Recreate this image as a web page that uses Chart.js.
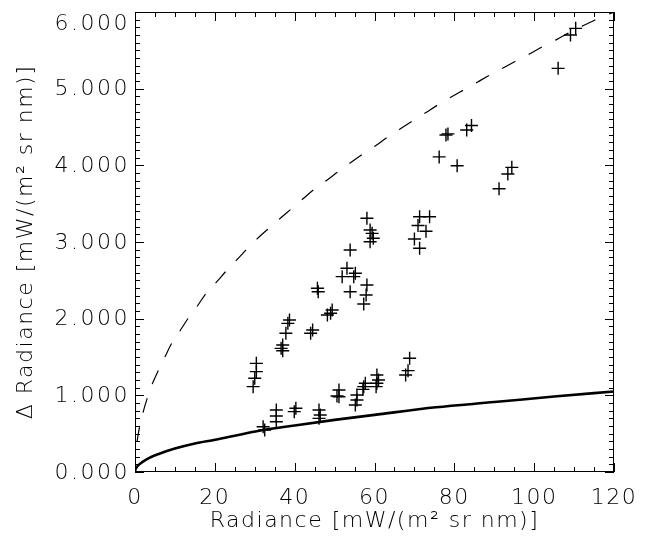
<!DOCTYPE html>
<html>
<head>
<meta charset="utf-8">
<script src="https://cdn.jsdelivr.net/npm/chart.js@4.4.1/dist/chart.umd.min.js"></script>
<style>
  html, body { margin: 0; padding: 0; background: #fff; }
  #wrap { width: 648px; height: 554px; position: relative; }
</style>
</head>
<body>
<div id="wrap"><canvas id="chart"></canvas></div>
<script>
// measured points: radiance vs delta radiance
const pointX = [110.4, 109.1, 106.0, 77.9, 78.4, 83.1, 84.3, 76.2, 80.7, 91.2, 93.4, 94.4,
  71.3, 73.8, 70.9, 72.9, 70.0, 71.3, 58.1, 58.9, 59.4, 59.7, 58.9, 53.9, 53.1, 55.2,
  51.9, 54.8, 53.9, 58.1, 57.9, 57.3, 45.7, 45.9, 49.4, 48.2, 49.0, 38.7, 38.3, 37.8,
  44.5, 44.0, 37.0, 36.6, 37.0, 30.4, 30.4, 30.0, 29.6, 68.8, 68.4, 67.8, 51.1, 50.6,
  51.1, 57.7, 57.3, 57.1, 60.6, 61.0, 60.6, 60.4, 55.6, 55.6, 55.2, 46.1, 46.4, 46.1,
  40.3, 39.9, 35.4, 35.4, 35.4, 32.1, 32.5];
const pointY = [5787, 5700, 5265, 4395, 4410, 4461, 4520, 4110, 3995, 3695, 3887, 3974,
  3330, 3330, 3215, 3140, 3040, 2918, 3309, 3157, 3113, 3048, 3004, 2896, 2657, 2592,
  2548, 2548, 2352, 2439, 2309, 2191, 2396, 2352, 2113, 2048, 2070, 1983, 1939, 1809,
  1852, 1809, 1656, 1613, 1582, 1417, 1309, 1222, 1113, 1483, 1322, 1265, 1070, 991,
  982, 1157, 1113, 1078, 1265, 1200, 1157, 1113, 1004, 939, 874, 809, 743, 700,
  831, 787, 809, 730, 656, 591, 548];

// dashed upper curve
const upperX = [0, 0.1, 0.3, 0.6, 1, 1.5, 2, 3, 4.4, 5.9, 7.6, 9.2, 11.4, 13.3, 15.8, 17.8,
  20.5, 22.7, 25, 30.7, 33.5, 36.4, 39.1, 42.0, 44.9, 47.9, 50.9, 53.9, 57.0, 60.1, 63.2,
  66.3, 69.5, 72.8, 75.8, 79.1, 82.3, 85.7, 88.9, 92.2, 95.4, 98.9, 102.0, 105.6, 108.6,
  112.2, 115.0, 120];
const upperY = [0, 175, 300, 425, 550, 670, 775, 950, 1157, 1330, 1513, 1678, 1852, 2004, 2178, 2331,
  2482, 2613, 2740, 3048, 3178, 3309, 3430, 3560, 3687, 3800, 3917, 4030, 4143, 4250, 4365,
  4470, 4578, 4685, 4787, 4887, 4982, 5083, 5178, 5270, 5360, 5455, 5545, 5640, 5725,
  5820, 5890, 6000];

// solid lower curve
const lowerX = [0, 0.1, 0.25, 0.5, 1, 2, 3.6, 6.1, 10, 15, 20.1, 25.9, 30.8, 40, 50, 60, 75.4, 90, 105, 120];
const lowerY = [0, 30, 48, 68, 96, 136, 185, 238, 305, 372, 420, 483, 535, 607, 680, 745, 844, 912, 985, 1050];

const yTicks = [0, 1000, 2000, 3000, 4000, 5000, 6000];
const yTickLabels = ["0.000", "1.000", "2.000", "3.000", "4.000", "5.000", "6.000"];
const xTitle = "Radiance [mW/(m² sr nm)]";
const yTitle = "Δ Radiance [mW/(m² sr nm)]";

const FONT = { family: "'DejaVu Sans', sans-serif", size: 22, weight: '200' };

function toXY(xs, ys) {
  return xs.map((v, i) => ({ x: v, y: ys[i] }));
}

// IDL style frame: box with inward ticks on all four sides, custom y labels
const idlAxes = {
  id: 'idlAxes',
  beforeDraw(chart) {
    chart.ctx.letterSpacing = '1.5px';
  },
  afterDraw(chart) {
    const { ctx, chartArea: a, scales: { x, y } } = chart;
    ctx.save();
    ctx.strokeStyle = '#000';
    ctx.lineWidth = 1;
    ctx.strokeRect(Math.round(a.left) + 0.5, Math.round(a.top) + 0.5,
      Math.round(a.right - a.left) - 1, Math.round(a.bottom - a.top) - 1);
    ctx.beginPath();
    for (let v = 0; v <= 120; v += 5) {
      const px = Math.round(x.getPixelForValue(v)) + 0.5;
      const len = v % 20 === 0 ? 9 : 5;
      ctx.moveTo(px, a.bottom); ctx.lineTo(px, a.bottom - len);
      ctx.moveTo(px, a.top); ctx.lineTo(px, a.top + len);
    }
    for (let v = 0; v <= 6000; v += 100) {
      const py = Math.round(y.getPixelForValue(v)) + 0.5;
      const len = v % 1000 === 0 ? 9 : 5;
      ctx.moveTo(a.left, py); ctx.lineTo(a.left + len, py);
      ctx.moveTo(a.right, py); ctx.lineTo(a.right - len, py);
    }
    ctx.stroke();

    ctx.fillStyle = '#000';
    ctx.letterSpacing = '2.5px';
    ctx.font = `${FONT.weight} ${FONT.size}px ${FONT.family}`;
    ctx.textAlign = 'right';
    ctx.textBaseline = 'middle';
    yTicks.forEach((v, i) => {
      const py = Math.max(y.getPixelForValue(v), a.top + 11);
      ctx.fillText(yTickLabels[i], a.left - 5, py + 1);
    });
    ctx.restore();
  }
};

new Chart(document.getElementById('chart'), {
  type: 'scatter',
  data: {
    datasets: [
      {
        type: 'line',
        data: toXY(upperX, upperY),
        borderColor: '#000',
        borderWidth: 1.2,
        borderDash: [15, 15],
        pointRadius: 0,
        cubicInterpolationMode: 'monotone',
        fill: false
      },
      {
        type: 'line',
        data: toXY(lowerX, lowerY),
        borderColor: '#000',
        borderWidth: 2.6,
        pointRadius: 0,
        cubicInterpolationMode: 'monotone',
        fill: false
      },
      {
        data: toXY(pointX, pointY),
        pointStyle: 'cross',
        pointRadius: 6.5,
        borderColor: '#000',
        borderWidth: 1.4,
        backgroundColor: '#000'
      }
    ]
  },
  options: {
    responsive: true,
    maintainAspectRatio: false,
    animation: false,
    layout: { padding: { top: 12, right: 28, left: 0, bottom: 0 } },
    plugins: { legend: { display: false }, tooltip: { enabled: false } },
    scales: {
      x: {
        type: 'linear',
        min: 0,
        max: 120,
        grid: { display: false, drawTicks: false },
        border: { display: false },
        ticks: { stepSize: 20, padding: 13, color: '#000', font: FONT },
        title: { display: true, text: xTitle, color: '#000', font: FONT, padding: { top: 0, bottom: 20 } },
        afterFit(scale) { scale.height = 82; }
      },
      y: {
        type: 'linear',
        min: 0,
        max: 6000,
        grid: { display: false, drawTicks: false },
        border: { display: false },
        ticks: { display: false, stepSize: 1000 },
        title: { display: true, text: yTitle, color: '#000', font: FONT, padding: { top: 13, bottom: 0 } },
        afterFit(scale) { scale.width = 135; }
      }
    }
  },
  plugins: [idlAxes]
});
</script>
</body>
</html>
